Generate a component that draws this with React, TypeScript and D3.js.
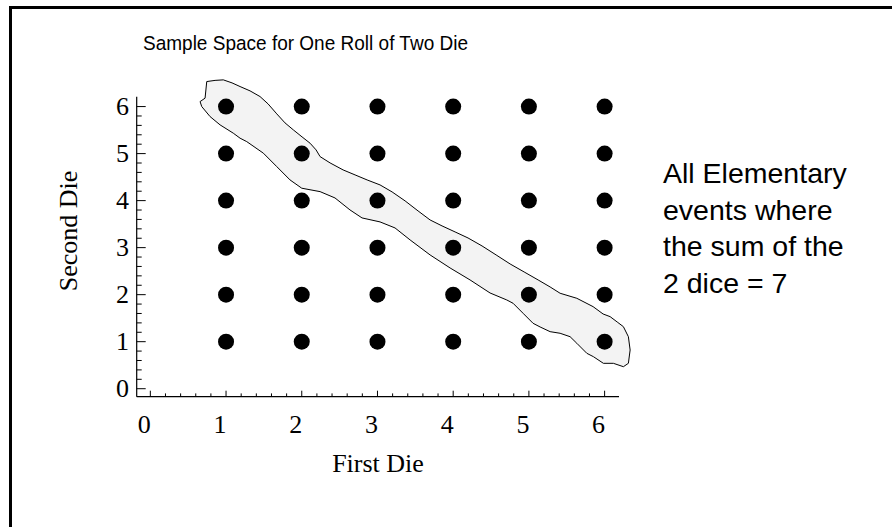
import React from "react";
import * as d3 from "d3";

const W = 892;
const H = 527;

const firstDie = [1, 2, 3, 4, 5, 6];
const secondDie = [1, 2, 3, 4, 5, 6];
const tickValues = [0, 1, 2, 3, 4, 5, 6];
const titleText = "Sample Space for One Roll of Two Die";
const xTitle = "First Die";
const yTitle = "Second Die";
const noteLines = ["All Elementary", "events where", "the sum of the", "2 dice = 7"];

// outline of the shaded region around the outcomes that sum to 7 (data units)
const blobX = [
  0.745, 0.855, 0.964, 1.079, 1.185, 1.317, 1.449, 1.555, 1.67, 1.779, 1.889, 2.004, 2.11, 2.189,
  2.242, 2.374, 2.546, 2.704, 2.863, 3.034, 3.193, 3.365, 3.536, 3.695, 3.853, 4.025, 4.196, 4.381,
  4.567, 4.752, 4.937, 5.122, 5.28, 5.412, 5.633, 5.848, 5.98, 6.073, 6.166, 6.248, 6.314, 6.337,
  6.314, 6.248, 6.116, 5.984, 5.852, 5.765, 5.633, 5.544, 5.412, 5.28, 5.148, 5.055, 4.923, 4.791,
  4.708, 4.487, 4.223, 3.959, 3.695, 3.431, 3.232, 3.034, 2.796, 2.637, 2.439, 2.242, 2.0, 1.845,
  1.67, 1.493, 1.273, 1.185, 1.096, 0.921, 0.789, 0.679, 0.657, 0.723,
];
const blobY = [
  6.532, 6.557, 6.568, 6.504, 6.426, 6.334, 6.213, 6.057, 5.845, 5.653, 5.504, 5.355, 5.221, 5.079,
  4.936, 4.802, 4.653, 4.547, 4.44, 4.334, 4.185, 3.994, 3.781, 3.589, 3.462, 3.334, 3.206, 3.036,
  2.845, 2.653, 2.483, 2.313, 2.164, 2.03, 1.923, 1.745, 1.589, 1.532, 1.419, 1.319, 1.106, 0.823,
  0.54, 0.468, 0.54, 0.54, 0.681, 0.753, 0.966, 1.106, 1.179, 1.213, 1.313, 1.391, 1.604, 1.817,
  1.887, 2.036, 2.313, 2.568, 2.845, 3.164, 3.419, 3.547, 3.632, 3.802, 4.057, 4.191, 4.264, 4.44,
  4.723, 5.009, 5.255, 5.328, 5.434, 5.611, 5.787, 6.0, 6.106, 6.179,
];

export default function App() {
  const x = d3.scaleLinear().domain([-0.18, 6.19]).range([136.7, 619]);
  const y = d3.scaleLinear().domain([-0.17, 6.21]).range([396.7, 96.7]);

  const minor = d3.range(0, 31).map((i) => i / 5);

  const blobPts: [number, number][] = blobX.map((bx, i) => [bx, blobY[i]]);
  const blobPath =
    d3
      .line<[number, number]>()
      .x((d) => x(d[0]))
      .y((d) => y(d[1]))
      .curve(d3.curveLinearClosed)(blobPts) || "";

  const points: [number, number][] = [];
  firstDie.forEach((a) => secondDie.forEach((b) => points.push([a, b])));

  const x0 = x.range()[0];
  const y0 = y.range()[0];

  return (
    <svg
      width={W}
      height={H}
      style={{ position: "absolute", left: 0, top: 0, background: "#fff" }}
    >
      <rect x={0} y={0} width={W} height={H} fill="#fff" />
      {/* frame */}
      <line x1={9} x2={W} y1={7.5} y2={7.5} stroke="#000" strokeWidth={3} />
      <line x1={10.5} x2={10.5} y1={6} y2={H} stroke="#000" strokeWidth={3} />

      <text
        x={143}
        y={50}
        fontFamily="Liberation Sans, Arial, sans-serif"
        fontSize={20.5}
        textLength={325}
        lengthAdjust="spacingAndGlyphs"
        fill="#000"
      >
        {titleText}
      </text>

      {/* shaded event */}
      <path d={blobPath} fill="#f3f3f3" stroke="#000" strokeWidth={1} strokeLinejoin="round" />

      {/* dots */}
      {points.map(([a, b]) => (
        <circle key={`${a}-${b}`} cx={x(a)} cy={y(b)} r={8} fill="#000" />
      ))}

      {/* axes */}
      <line x1={x0} x2={x.range()[1]} y1={y0} y2={y0} stroke="#000" strokeWidth={1.2} />
      <line x1={x0} x2={x0} y1={y0} y2={y.range()[1]} stroke="#000" strokeWidth={1.2} />

      {minor.map((v) => {
        const major = Math.abs(v - Math.round(v)) < 1e-6;
        return (
          <g key={`t${v}`}>
            <line
              x1={x(v)}
              x2={x(v)}
              y1={y0}
              y2={y0 - (major ? 6 : 3.3)}
              stroke="#000"
              strokeWidth={1}
            />
            <line
              x1={x0}
              x2={x0 + (major ? 9 : 5)}
              y1={y(v)}
              y2={y(v)}
              stroke="#000"
              strokeWidth={1}
            />
          </g>
        );
      })}

      {tickValues.map((v) => (
        <text
          key={`xl${v}`}
          x={x(v) - 6}
          y={433}
          textAnchor="middle"
          fontFamily="Liberation Serif, Times New Roman, serif"
          fontSize={26}
          fill="#000"
        >
          {v}
        </text>
      ))}
      {tickValues.map((v) => (
        <text
          key={`yl${v}`}
          x={129}
          y={y(v) + 8.5}
          textAnchor="end"
          fontFamily="Liberation Serif, Times New Roman, serif"
          fontSize={26}
          fill="#000"
        >
          {v}
        </text>
      ))}

      <text
        x={378}
        y={472}
        textAnchor="middle"
        fontFamily="Liberation Serif, Times New Roman, serif"
        fontSize={26}
        fill="#000"
      >
        {xTitle}
      </text>
      <text
        transform={`translate(77,231) rotate(-90)`}
        textAnchor="middle"
        fontFamily="Liberation Serif, Times New Roman, serif"
        fontSize={26}
        fill="#000"
      >
        {yTitle}
      </text>

      {noteLines.map((t, i) => (
        <text
          key={t}
          x={663}
          y={183 + i * 36.7}
          fontFamily="Liberation Sans, Arial, sans-serif"
          fontSize={28.5}
          fill="#000"
        >
          {t}
        </text>
      ))}
    </svg>
  );
}
